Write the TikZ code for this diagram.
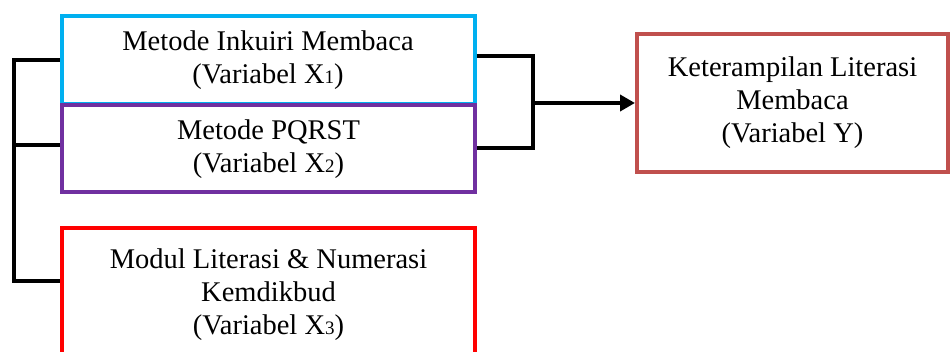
\documentclass[tikz,border=0pt]{standalone}
\usepackage{fontspec}
\setmainfont{Liberation Serif}
\usetikzlibrary{arrows.meta}
\definecolor{xblue}{HTML}{00B0F0}
\definecolor{xpurple}{HTML}{7030A0}
\definecolor{xred}{HTML}{FF0000}
\definecolor{yred}{HTML}{C0504D}
% small index digit set on the baseline
\newcommand{\idx}[1]{{\fontsize{19}{19}\selectfont #1}}

\begin{document}
\begin{tikzpicture}[x=1pt,y=-1pt,
  varbox/.style={draw, line width=4pt, fill=white, align=center, inner sep=0pt,
    font=\fontsize{28.5}{33}\selectfont},
  link/.style={line width=4pt, line join=miter}]
\clip (0,0) rectangle (950,352);
\fill[white] (0,0) rectangle (950,352);

% independent variables
\node[varbox, draw=xblue, minimum width=413pt, minimum height=88pt] (x1) at (268,60)
  {Metode Inkuiri Membaca\\(Variabel X\idx{1})};
\node[varbox, draw=xpurple, minimum width=413pt, minimum height=87pt] (x2) at (268.5,149)
  {Metode PQRST\\(Variabel X\idx{2})};
\node[varbox, draw=xred, minimum width=413pt, minimum height=134pt] (x3) at (268.5,295)
  {Modul Literasi \& Numerasi\\Kemdikbud\\(Variabel X\idx{3})};

% dependent variable
\node[varbox, draw=yred, minimum width=311pt, minimum height=138pt] (y) at (792.5,103)
  {Keterampilan Literasi\\Membaca\\(Variabel Y)};

% left bracket joining the three inputs
\coordinate (lt) at (14,60.5);
\coordinate (lm) at (14,145);
\coordinate (lb) at (14,281.5);
\draw[link] (x1.west |- lt) -- (lt) -- (lb) -- (x3.west |- lb);
\draw[link] (lm) -- (x2.west |- lm);

% right bracket and arrow to the outcome
\coordinate (rt) at (533,56.5);
\coordinate (rb) at (533,148.5);
\coordinate (rm) at (533,103);
\draw[link] (x1.east |- rt) -- (rt) -- (rb) -- (x2.east |- rb);
\draw[link, -{Triangle[length=15pt,width=16pt]}] (rm) -- (y.west);
\end{tikzpicture}
\end{document}
